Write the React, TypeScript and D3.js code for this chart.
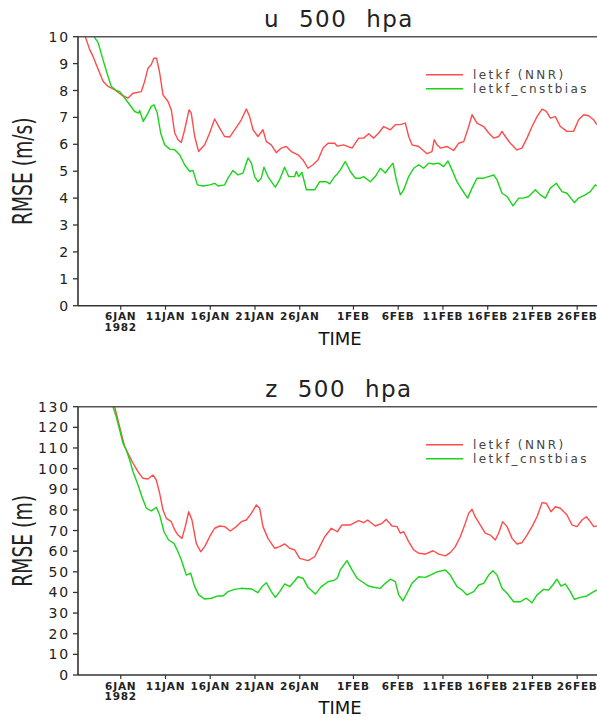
import React from 'react';
import * as d3 from 'd3';

// day offsets from 1 JAN 1982 00Z
const tickDays = [5, 10, 15, 20, 25, 31, 36, 41, 46, 51, 56];
const tickLabels = ['6JAN', '11JAN', '16JAN', '21JAN', '26JAN', '1FEB', '6FEB', '11FEB', '16FEB', '21FEB', '26FEB'];
const legendNames = ['letkf (NNR)', 'letkf_cnstbias'];

const uNnr: [number, number][] = [[1.04,10.0],[1.53,9.52],[1.9,9.27],[2.27,8.96],[2.65,8.65],[3.02,8.34],[3.58,8.15],[4.32,8.03],[5.06,7.84],[5.81,7.72],[6.37,7.9],[7.3,7.96],[7.67,8.34],[8.04,8.83],[8.4,8.96],[8.7,9.2],[9.0,9.2],[9.35,8.65],[9.72,7.84],[10.28,7.59],[10.65,7.28],[11.03,6.42],[11.4,6.17],[11.77,6.07],[12.14,6.54],[12.63,7.28],[12.88,7.16],[13.26,6.29],[13.7,5.73],[14.38,5.98],[14.93,6.42],[15.49,6.94],[16.05,6.6],[16.6,6.29],[17.17,6.27],[17.73,6.54],[18.47,6.91],[19.03,7.31],[19.4,7.03],[19.78,6.54],[20.33,6.29],[20.89,6.54],[21.27,6.1],[21.82,5.98],[22.38,5.69],[22.94,5.86],[23.5,5.92],[24.06,5.73],[24.8,5.61],[25.36,5.42],[25.92,5.11],[26.48,5.24],[27.04,5.42],[27.6,5.86],[28.16,6.04],[28.9,6.04],[29.2,5.93],[29.9,5.98],[30.84,5.86],[31.58,6.23],[32.14,6.23],[32.7,6.39],[33.26,6.23],[33.82,6.42],[34.38,6.66],[35.12,6.54],[35.68,6.73],[36.24,6.73],[36.8,6.79],[37.17,6.29],[37.54,5.98],[38.29,5.92],[39.22,5.65],[39.77,5.73],[40.03,6.17],[40.34,5.98],[40.71,5.86],[41.45,5.92],[42.2,5.77],[42.76,6.04],[43.32,6.1],[43.88,6.66],[44.25,7.1],[44.8,6.79],[45.55,6.66],[46.11,6.42],[46.67,6.23],[47.23,6.29],[47.6,6.48],[47.97,6.29],[48.53,6.04],[49.27,5.79],[49.83,5.86],[50.39,6.23],[50.95,6.66],[51.51,7.03],[52.07,7.31],[52.55,7.22],[53.0,6.97],[53.56,7.03],[54.12,6.66],[54.86,6.48],[55.6,6.48],[56.16,6.91],[56.72,7.1],[57.28,7.06],[57.84,6.91],[58.2,6.73]];

const uBias: [number, number][] = [[2.01,10.0],[2.46,9.79],[3.02,9.14],[3.58,8.52],[3.95,8.15],[4.5,8.0],[4.88,7.96],[5.44,7.72],[6.0,7.47],[6.56,7.22],[7.0,7.16],[7.11,7.26],[7.52,6.85],[8.04,7.16],[8.41,7.41],[8.71,7.47],[9.08,7.16],[9.46,6.42],[9.9,5.98],[10.47,5.82],[11.03,5.8],[11.58,5.61],[12.14,5.24],[12.7,4.99],[13.07,5.03],[13.56,4.49],[14.19,4.45],[14.94,4.49],[15.5,4.55],[15.87,4.45],[16.61,4.49],[16.98,4.74],[17.54,5.03],[18.1,4.86],[18.66,4.93],[19.22,5.49],[19.6,5.3],[19.96,4.8],[20.33,4.61],[20.7,4.74],[21.0,5.15],[21.45,4.8],[21.82,4.61],[22.27,4.41],[22.75,4.68],[23.3,5.15],[23.77,4.8],[24.43,4.8],[24.62,4.99],[24.88,4.8],[25.25,4.95],[25.74,4.31],[26.67,4.31],[27.23,4.61],[27.97,4.61],[28.34,4.53],[28.9,4.8],[29.2,4.9],[29.53,5.05],[30.09,5.36],[30.65,4.99],[31.21,4.74],[31.77,4.74],[32.14,4.8],[32.88,4.61],[33.44,4.8],[34.0,5.11],[34.56,4.93],[34.94,5.11],[35.42,5.3],[35.79,4.68],[36.24,4.12],[36.62,4.31],[37.17,4.8],[37.73,5.11],[38.29,5.24],[38.85,5.11],[39.41,5.3],[39.96,5.27],[40.52,5.3],[41.08,5.17],[41.56,5.38],[42.01,5.05],[42.57,4.61],[43.13,4.31],[43.76,4.0],[44.25,4.37],[44.8,4.74],[45.55,4.74],[46.11,4.8],[46.67,4.86],[47.04,4.68],[47.6,4.18],[48.16,4.06],[48.83,3.71],[49.46,4.0],[50.02,4.0],[50.58,4.06],[51.32,4.31],[51.88,4.12],[52.44,4.0],[53.0,4.37],[53.67,4.55],[54.3,4.24],[54.86,4.18],[55.68,3.83],[56.16,4.0],[56.9,4.12],[57.46,4.24],[58.02,4.49],[58.2,4.45]];

const zNnr: [number, number][] = [[4.32,130],[4.69,123.5],[5.06,117.1],[5.44,110.6],[5.81,107.4],[6.37,102.6],[6.93,98.5],[7.49,95.3],[8.04,95.0],[8.6,96.9],[8.97,94.5],[9.35,88.0],[9.72,79.9],[10.09,75.9],[10.65,74.3],[11.03,70.3],[11.4,67.8],[11.84,66.2],[12.21,71.9],[12.59,79.1],[12.96,75.1],[13.44,63.8],[13.93,59.7],[14.38,62.2],[14.93,67.0],[15.49,71.1],[16.05,72.2],[16.61,71.9],[17.24,69.8],[17.91,71.9],[18.47,74.3],[19.03,75.1],[19.59,78.3],[20.15,82.4],[20.52,80.8],[20.89,71.9],[21.45,66.2],[22.2,61.4],[22.76,62.2],[23.32,63.5],[23.88,61.4],[24.43,60.6],[24.99,56.5],[25.92,55.4],[26.67,57.3],[27.23,62.2],[27.79,67.0],[28.53,71.1],[29.2,69.4],[29.72,72.7],[30.65,72.7],[31.58,74.8],[32.14,73.8],[32.59,75.1],[33.44,72.2],[34.19,73.5],[34.67,75.4],[35.31,72.2],[35.87,71.9],[36.24,68.7],[36.62,69.4],[37.17,64.6],[37.73,60.6],[38.29,59.0],[39.03,58.6],[39.89,60.2],[40.52,58.6],[41.26,57.7],[41.82,59.3],[42.38,62.2],[42.94,67.0],[43.5,73.5],[43.87,78.3],[44.25,80.3],[44.6,76.7],[45.16,72.7],[45.73,68.7],[46.29,67.8],[46.85,65.4],[47.22,68.7],[47.67,74.3],[48.16,71.9],[48.72,66.2],[49.27,63.5],[49.83,64.1],[50.39,67.8],[50.95,71.9],[51.51,76.7],[52.07,83.5],[52.55,83.2],[53.07,79.1],[53.56,81.5],[54.12,80.8],[54.86,77.5],[55.42,72.7],[55.98,71.9],[56.54,75.1],[57.02,76.7],[57.46,74.3],[57.84,71.9],[58.2,72.2]];

const zBias: [number, number][] = [[4.13,130],[4.5,125.1],[4.88,118.7],[5.25,112.3],[5.62,109.0],[6.0,104.2],[6.37,98.5],[6.93,92.1],[7.37,86.4],[7.86,80.8],[8.41,79.5],[8.97,81.3],[9.35,77.5],[9.83,69.4],[10.35,65.4],[10.95,63.8],[11.4,59.7],[11.77,55.7],[12.33,48.4],[12.81,49.3],[13.26,42.8],[13.71,38.8],[14.38,36.8],[15.12,37.2],[15.87,38.3],[16.42,38.3],[16.98,40.4],[17.73,41.5],[18.47,42.0],[19.59,41.7],[20.33,39.9],[20.78,42.8],[21.27,44.7],[21.82,40.4],[22.27,37.6],[22.76,40.4],[23.32,44.1],[23.88,42.8],[24.36,45.2],[24.8,47.6],[25.36,46.9],[25.92,42.5],[26.74,39.2],[27.41,42.8],[28.16,45.2],[28.9,46.0],[29.2,47.0],[29.53,50.9],[30.28,55.4],[30.84,50.9],[31.4,46.9],[31.96,45.2],[32.7,43.1],[33.26,42.5],[34.0,42.0],[34.56,44.4],[35.12,46.4],[35.68,45.2],[36.05,38.8],[36.54,36.0],[36.98,39.6],[37.54,44.4],[38.29,47.6],[39.03,47.3],[39.59,48.4],[40.34,50.0],[41.26,50.9],[41.82,48.4],[42.57,42.8],[43.13,41.2],[43.69,38.8],[44.44,40.4],[45.0,43.6],[45.55,44.4],[46.11,48.4],[46.59,50.5],[47.04,48.4],[47.6,42.0],[48.16,39.6],[48.9,35.5],[49.65,35.5],[50.32,37.2],[50.95,35.0],[51.51,38.8],[52.25,41.5],[52.81,41.2],[53.18,43.1],[53.74,46.4],[54.19,43.1],[54.67,44.1],[55.23,40.4],[55.68,36.7],[56.35,37.6],[57.09,38.3],[57.65,39.9],[58.2,41.2]];

const W = 597;
const H = 717;
const RED = '#ff4b4b';
const GREEN = '#19d419';
const FONT = 'DejaVu Sans, sans-serif';

// x: days since 1 JAN, 8.95px per day, plot starts near 1 JAN 05Z and runs off the right edge
const x = d3.scaleLinear().domain([0, 60]).range([76, 76 + 60 * 8.95]);
const plotLeft = 78;

type PanelProps = {
  id: string;
  title: string;
  ylabel: string;
  yMax: number;
  yStep: number;
  top: number;
  bottom: number;
  red: [number, number][];
  green: [number, number][];
};

function Panel({ id, title, ylabel, yMax, yStep, top, bottom, red, green }: PanelProps) {
  const y = d3.scaleLinear().domain([0, yMax]).range([bottom, top]);
  const line = d3.line<[number, number]>()
    .x(d => x(d[0]))
    .y(d => y(d[1]));
  const yTicks = d3.range(0, yMax + yStep / 2, yStep);
  const midY = (top + bottom) / 2;
  const legX = 426;

  return (
    <g>
      <defs>
        <clipPath id={id}>
          <rect x={plotLeft} y={top} width={W - plotLeft} height={bottom - top} />
        </clipPath>
      </defs>
      <text x={339} y={top - 10} textAnchor="middle" fontFamily={FONT} fontSize={23}
        letterSpacing={1.5} wordSpacing={10} fill="#222">{title}</text>

      <g clipPath={`url(#${id})`}>
        <path d={line(red) || ''} fill="none" stroke={RED} strokeWidth={1.4} strokeLinejoin="round" />
        <path d={line(green) || ''} fill="none" stroke={GREEN} strokeWidth={1.4} strokeLinejoin="round" />
      </g>

      {/* frame */}
      <line x1={plotLeft} x2={W} y1={top} y2={top} stroke="#555" strokeWidth={1.6} />
      <line x1={plotLeft} x2={W} y1={bottom} y2={bottom} stroke="#333" strokeWidth={1.6} />
      <line x1={plotLeft} x2={plotLeft} y1={top} y2={bottom} stroke="#333" strokeWidth={1.6} />

      {yTicks.map(t => (
        <g key={t}>
          <line x1={plotLeft - 5} x2={plotLeft} y1={y(t)} y2={y(t)} stroke="#333" strokeWidth={1.3} />
          <text x={plotLeft - 8} y={y(t) + 5} textAnchor="end" fontFamily={FONT} fontSize={14}
            letterSpacing={1.8} fill="#222">{t}</text>
        </g>
      ))}

      {tickDays.map((d, i) => (
        <g key={d}>
          <line x1={x(d)} x2={x(d)} y1={bottom} y2={bottom + 4} stroke="#333" strokeWidth={1.2} />
          <text x={x(d)} y={bottom + 14.5} textAnchor="middle" fontFamily={FONT} fontSize={10.5}
            fontWeight="bold" letterSpacing={0.8} fill="#222">{tickLabels[i]}</text>
        </g>
      ))}
      <text x={x(tickDays[0])} y={bottom + 25} textAnchor="middle" fontFamily={FONT} fontSize={10.5}
        fontWeight="bold" letterSpacing={0.8} fill="#222">1982</text>

      <text x={340} y={bottom + 39} textAnchor="middle" fontFamily={FONT} fontSize={18} fill="#111">TIME</text>

      <text transform={`translate(32,${midY}) rotate(-90) scale(0.72,1)`} textAnchor="middle"
        fontFamily={FONT} fontSize={26} fill="#222">{ylabel}</text>

      {[RED, GREEN].map((c, i) => (
        <g key={c}>
          <line x1={legX} x2={legX + 37} y1={top + 38 + i * 14} y2={top + 38 + i * 14} stroke={c} strokeWidth={1.4} />
          <text x={legX + 47} y={top + 42 + i * 14} fontFamily={FONT} fontSize={12} letterSpacing={2.4}
            fill="#444">{legendNames[i]}</text>
        </g>
      ))}
    </g>
  );
}

export default function App() {
  return (
    <svg width={W} height={H} style={{ position: 'absolute', left: 0, top: 0, background: '#fff' }}>
      <rect width={W} height={H} fill="#fff" />
      <Panel id="clipU" title="u 500 hpa" ylabel="RMSE (m/s)" yMax={10} yStep={1}
        top={36.7} bottom={305.7} red={uNnr} green={uBias} />
      <Panel id="clipZ" title="z 500 hpa" ylabel="RMSE (m)" yMax={130} yStep={10}
        top={406.7} bottom={675} red={zNnr} green={zBias} />
    </svg>
  );
}
